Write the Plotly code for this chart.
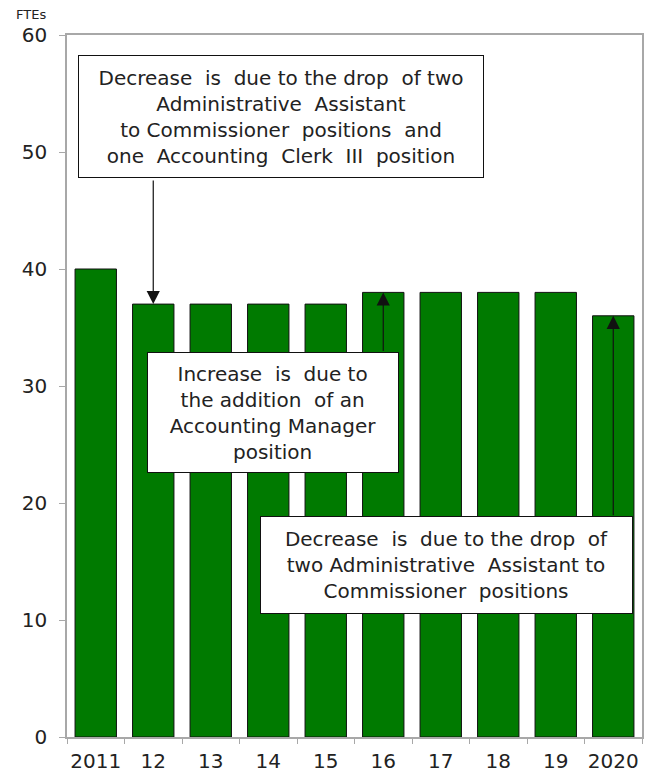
import plotly.graph_objs as go

years = ["2011", "12", "13", "14", "15", "16", "17", "18", "19", "2020"]
ftes = [40, 37, 37, 37, 37, 38, 38, 38, 38, 36]

note_2012 = ("Decrease  is  due to the drop  of two<br>Administrative  Assistant<br>"
             "to Commissioner  positions  and<br>one  Accounting  Clerk  III  position")
note_2016 = "Increase  is  due to<br>the addition  of an<br>Accounting Manager<br>position"
note_2020 = ("Decrease  is  due to the drop  of<br>two Administrative  Assistant to<br>"
             "Commissioner  positions")

FONT = "DejaVu Sans, Verdana, sans-serif"
TXT = "#222222"
AXIS = "#A8A8A8"

fig = go.Figure()
fig.add_trace(go.Bar(
    x=years, y=ftes, marker_color="#007A00",
    marker_line_color="#111111", marker_line_width=1
))

# arrows from the callout boxes to the bar tops (x given as category index)
arrows = [(1, -125), (5, 60), (9, 201)]
for idx, ay in arrows:
    fig.add_annotation(
        x=idx, y=ftes[idx], text="", showarrow=True, ax=0, ay=ay,
        arrowhead=2, arrowsize=2.2, arrowwidth=1.2, arrowcolor="#111111", standoff=0
    )

# callout boxes
boxes = [
    (note_2012, 0.372, 0.884, 404, 121),
    (note_2016, 0.358, 0.462, 250, 119),
    (note_2020, 0.660, 0.245, 371, 96),
]
for text, x, y, w, h in boxes:
    fig.add_annotation(
        xref="paper", yref="paper", x=x, y=y, xanchor="center", yanchor="middle",
        text=text, showarrow=False, align="center", width=w, height=h,
        bgcolor="white", bordercolor="#111111", borderwidth=1, borderpad=0,
        font=dict(family=FONT, size=20, color=TXT)
    )

fig.add_annotation(
    xref="paper", yref="paper", x=-0.063, y=1.015, xanchor="center", yanchor="bottom",
    text="FTEs", showarrow=False, font=dict(family=FONT, size=13, color=TXT)
)

# page body adds an 8px offset, so the figure is sized to fit the window
fig.update_layout(
    width=647, height=767,
    margin=dict(l=59, r=13, t=27, b=38),
    plot_bgcolor="white", paper_bgcolor="white",
    showlegend=False, bargap=0.28,
    font=dict(family=FONT, color=TXT),
)
fig.update_yaxes(
    range=[0, 60], dtick=10, showgrid=False, zeroline=False, automargin=False,
    showline=True, linecolor=AXIS, linewidth=1.5, mirror=True,
    ticks="outside", ticklen=6, tickcolor=AXIS, ticklabelstandoff=8,
    tickfont=dict(family=FONT, size=20, color=TXT)
)
fig.update_xaxes(
    type="category", range=[-0.5, 9.5], tickangle=0, automargin=False,
    showgrid=False, showline=True, linecolor=AXIS, linewidth=1.5, mirror=True,
    ticks="outside", tickson="boundaries", ticklen=5, tickcolor=AXIS,
    ticklabelstandoff=5,
    tickfont=dict(family=FONT, size=20, color=TXT)
)

fig.write_html("out.html")
